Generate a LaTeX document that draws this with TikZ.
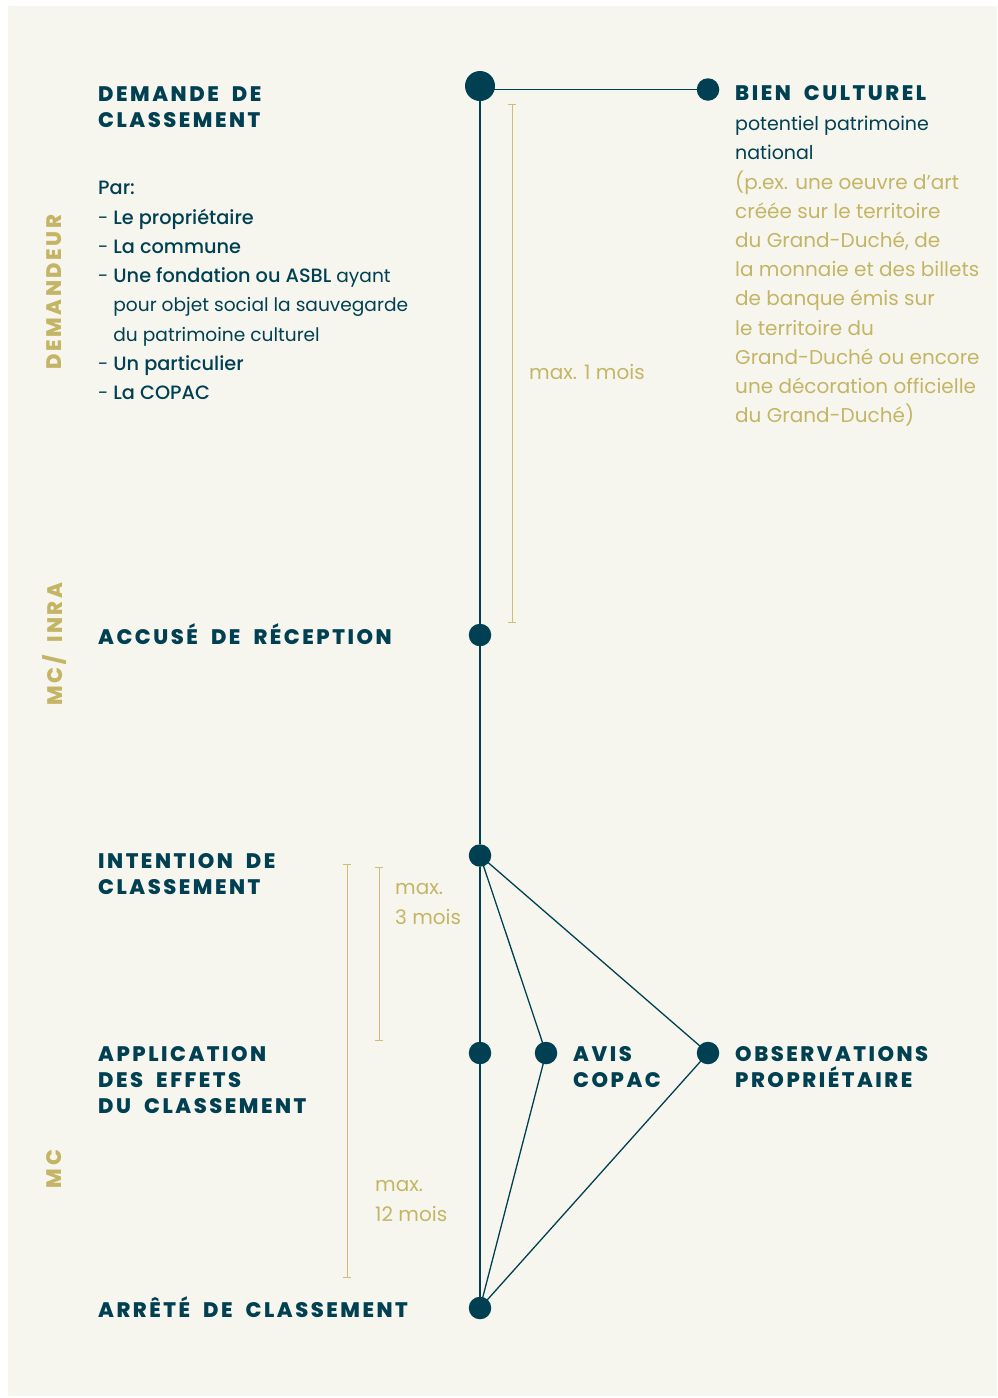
\documentclass[tikz,border=0pt]{standalone}
\usepackage{fontspec}
\setmainfont{Poppins}
\IfFontExistsTF{Poppins ExtraBold}{\newfontfamily\headfont{Poppins ExtraBold}[LetterSpace=12,WordSpace=2]}{\newfontfamily\headfont{Poppins}[LetterSpace=13,WordSpace=2,UprightFont=*-Bold]}
\IfFontExistsTF{Poppins Medium}{\newfontfamily\mymedf{Poppins Medium}}{\newfontfamily\mymedf{Poppins}[UprightFont=*-Bold]}
\newcommand{\mymed}{\mymedf\fontsize{19.3}{29.3}\selectfont}
\usetikzlibrary{arrows.meta}
\definecolor{dteal}{RGB}{0,64,82}
\definecolor{goldt}{RGB}{196,181,102}
\definecolor{goldl}{RGB}{205,190,115}
\definecolor{bgc}{RGB}{247,246,238}
\newcommand{\lns}[1]{\vtop{\lineskiplimit=-100pt\relax\lineskip=0pt\relax\def\\{\egroup\hbox\bgroup\ignorespaces}\hbox\bgroup\ignorespaces#1\egroup}}
\newcommand{\gl}{\fontsize{20}{29.2}\selectfont\color{goldt}}
\begin{document}
\begin{tikzpicture}[x=1pt,y=-1pt,
  bigdot/.style={circle,fill=dteal,minimum size=30pt,inner sep=0pt},
  dot/.style={circle,fill=dteal,minimum size=22.5pt,inner sep=0pt},
  conn/.style={draw=dteal,line width=1.3pt},
  span/.style={draw=goldl,line width=1pt,{Bar[width=8pt]}-{Bar[width=8pt]}},
  head/.style={anchor=base west,inner sep=0pt,text=dteal,font=\headfont\fontsize{21}{26}\selectfont},
  body/.style={anchor=base west,inner sep=0pt,text=dteal,font=\fontsize{18.6}{29.3}\selectfont},
  goldtxt/.style={anchor=base west,inner sep=0pt,text=goldt,font=\fontsize{20}{30}\selectfont},
  side/.style={rotate=90,inner sep=0pt,text=goldt,font=\headfont\fontsize{21}{26}\selectfont}]
\useasboundingbox (0,0) rectangle (998,1398);
\fill[bgc] (8,6) rectangle (997,1396);

% dots
\node[bigdot] (d1) at (480,86) {};
\node[dot] (dbien) at (708,89.5) {};
\node[dot] (d2) at (480,635) {};
\node[dot] (d3) at (480,855.5) {};
\node[dot] (d4) at (480,1053) {};
\node[dot] (davis) at (546,1053) {};
\node[dot] (dobs) at (708,1053) {};
\node[dot] (d5) at (480,1308) {};

% connectors
\draw[conn] (d1 |- dbien) -- (dbien);
\draw[conn] (d1) -- (d2) -- (d3) -- (d4) -- (d5);
\draw[conn] (d3.center) -- (davis.center) -- (d5.center);
\draw[conn] (d3.center) -- (dobs.center) -- (d5.center);

% duration spans
\coordinate (s1a) at (512,104); \coordinate (s1b) at (512,623);
\coordinate (s2a) at (379,867); \coordinate (s2b) at (379,1041);
\coordinate (s3a) at (347,864); \coordinate (s3b) at (347,1278);
\draw[span] (s1a) -- (s1b);
\draw[span] (s2a) -- (s2b);
\draw[span] (s3a) -- (s3b);
\node[goldtxt] (m1) at (529,379) {max. 1 mois};
\node[goldtxt] (m2) at (395,894) {\lns{max.\\3 mois}};
\node[goldtxt] (m3) at (375,1191.7) {\lns{max.\\12 mois}};

% side labels
\node[side] (l1) at (54.5,292) {DEMANDEUR};
\node[side] (l2) at (54.5,644) {MC/ INRA};
\node[side] (l3) at (54.5,1169) {MC};

% headings
\node[head] (h1) at (98,101) {\lns{DEMANDE DE\\CLASSEMENT}};
\node[head] (h2) at (735,100.5) {BIEN CULTUREL};
\node[head] (h3) at (98,644.5) {ACCUSÉ DE RÉCEPTION};
\node[head] (h4) at (98,868.5) {\lns{INTENTION DE\\CLASSEMENT}};
\node[head] (h5) at (98,1061.5) {\lns{APPLICATION\\DES EFFETS\\DU CLASSEMENT}};
\node[head] (h6) at (573,1061.5) {\lns{AVIS\\COPAC}};
\node[head] (h7) at (735,1061.5) {\lns{OBSERVATIONS\\PROPRIÉTAIRE}};
\node[head] (h8) at (98,1317.7) {ARRÊTÉ DE CLASSEMENT};

% body texts
\node[body] (par) at (98,194.7) {\lns{{\mymed Par:}\\
- {\mymed Le propriétaire}\\
- {\mymed La commune}\\
- {\mymed Une fondation ou ASBL} ayant\\
\phantom{- }pour objet social la sauvegarde\\
\phantom{- }du patrimoine culturel\\
- {\mymed Un particulier}\\
- {\mymed La COPAC}}};
\node[body,font=\fontsize{19}{29.2}\selectfont] (bien) at (735,130.7) {\lns{potentiel patrimoine\\
national\\
\gl(p.ex. une oeuvre d’art\\
\gl créée sur le territoire\\
\gl du Grand-Duché, de\\
\gl la monnaie et des billets\\
\gl de banque émis sur\\
\gl le territoire du\\
\gl Grand-Duché ou encore\\
\gl une décoration officielle\\
\gl du Grand-Duché)}};
\end{tikzpicture}
\end{document}
